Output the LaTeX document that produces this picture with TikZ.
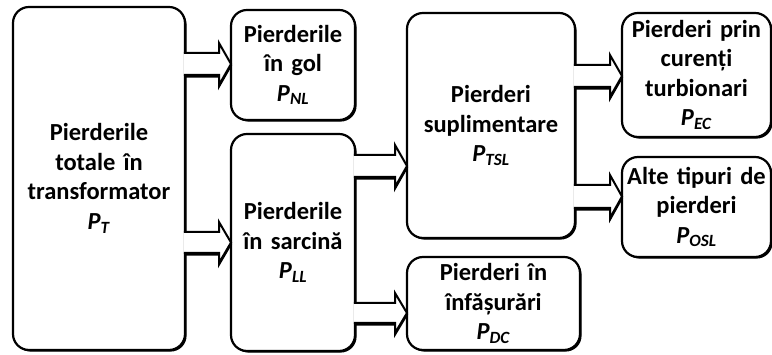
\documentclass[tikz,border=0pt]{standalone}
\usepackage{fontspec}
\setmainfont{Carlito}
\usetikzlibrary{calc,shadows}
\newcommand{\Psub}[1]{\textit{P}\textsubscript{\textit{#1}}}
\tikzset{
  box/.style={draw, line width=2.2pt, rounded corners=16pt, fill=white,
    align=center, inner sep=0pt, outer sep=0pt,
    font=\bfseries\fontsize{24.5}{29.5}\selectfont,
    drop shadow={shadow xshift=1.6pt, shadow yshift=-1.6pt, fill=black, opacity=1}},
  arrline/.style={line width=2pt, line join=miter, line cap=butt},
}
\newcommand{\blockarrow}[4]{%
  \draw[arrline, shift={(1.6pt,-1.6pt)}] let \p1=(#1.east), \p2=(#2.west) in
    (\x1,#3) -- (\x2-12pt,#3) -- (\x2-12pt,#3+10) -- (\x2,{(#3+#4)/2})
    -- (\x2-12pt,#4-10) -- (\x2-12pt,#4) -- (\x1,#4);
  \fill[white] let \p1=(#1.east), \p2=(#2.west) in
    (\x1-1.3pt,#3) -- (\x2-12pt,#3) -- (\x2-12pt,#3+10) -- (\x2,{(#3+#4)/2})
    -- (\x2-12pt,#4-10) -- (\x2-12pt,#4) -- (\x1-1.3pt,#4) -- cycle;
  \draw[arrline] let \p1=(#1.east), \p2=(#2.west) in
    (\x1-1.1pt,#3) -- (\x2-12pt,#3) -- (\x2-12pt,#3+10) -- (\x2,{(#3+#4)/2})
    -- (\x2-12pt,#4-10) -- (\x2-12pt,#4) -- (\x1-1.1pt,#4);
}
\begin{document}
\begin{tikzpicture}[x=1pt,y=1pt]
\useasboundingbox (0,0) rectangle (772,355);
\node[box, minimum width=172pt, minimum height=343pt, text width=170pt] (T) at (99,176.5)
  {Pierderile\\totale în\\transformator\\\Psub{T}};
\node[box, minimum width=124pt, minimum height=110pt, text width=122pt] (NL) at (293,290)
  {Pierderile\\în gol\\\Psub{NL}};
\node[box, minimum width=124pt, minimum height=217pt, text width=122pt] (LL) at (293,112.5)
  {Pierderile\\în sarcină\\\Psub{LL}};
\node[box, minimum width=168pt, minimum height=225pt, text width=166pt] (TSL) at (491,229.5)
  {Pierderi\\suplimentare\\\Psub{TSL}};
\node[box, minimum width=173pt, minimum height=93pt, text width=171pt] (DC) at (493.5,51.5)
  {Pierderi în\\înfășurări\\\Psub{DC}};
\node[box, minimum width=149pt, minimum height=124pt, text width=147pt] (EC) at (696.5,280)
  {Pierderi prin\\curenți\\turbionari\\\Psub{EC}};
\node[box, minimum width=149pt, minimum height=100pt, text width=147pt] (OSL) at (696.5,148)
  {Alte tipuri de\\pierderi\\\Psub{OSL}};
\blockarrow{T}{NL}{302}{280}
\blockarrow{T}{LL}{123}{102}
\blockarrow{LL}{TSL}{200}{178}
\blockarrow{LL}{DC}{52}{32}
\blockarrow{TSL}{EC}{290}{268}
\blockarrow{TSL}{OSL}{170}{147}
\end{tikzpicture}
\end{document}
